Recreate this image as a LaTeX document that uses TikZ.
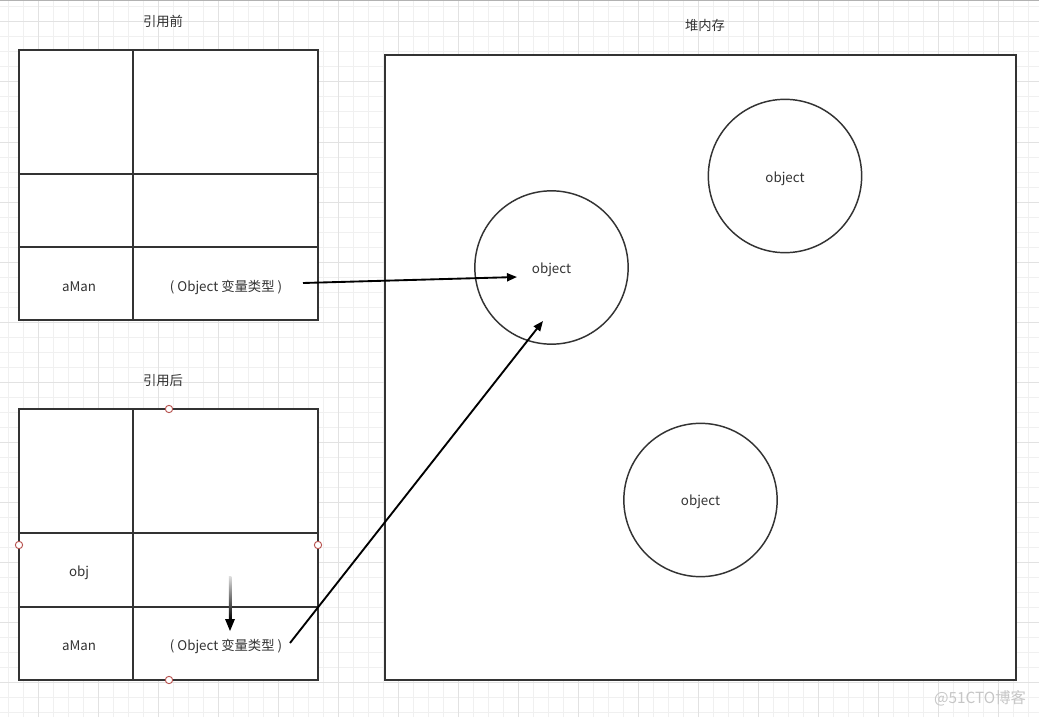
\documentclass[tikz,border=0pt]{standalone}
\usepackage{fontspec}
\setmainfont{Noto Sans CJK SC}
\usetikzlibrary{arrows.meta}
\definecolor{gridminor}{HTML}{F0F0F0}
\definecolor{gridmajor}{HTML}{E2E2E2}
\definecolor{ink}{HTML}{333333}
\definecolor{txt}{HTML}{333333}
\definecolor{handle}{HTML}{B85450}
\tikzset{
  box/.style={draw=ink, line width=1.5pt, fill=white},
  sep/.style={draw=ink, line width=1.5pt},
  lbl/.style={font=\fontsize{10}{12}\selectfont, text=txt, inner sep=0pt, yshift=-1.5pt},
  ttl/.style={font=\fontsize{10}{12}\selectfont, text=txt, inner sep=0pt, yshift=-1.2pt},
  blob/.style={circle, draw=ink, line width=1.1pt, fill=white, minimum size=115pt, inner sep=0pt},
  link/.style={draw=black, line width=1.4pt, -{Triangle[length=7.5pt,width=6pt]}},
  handlept/.style={circle, draw=handle, line width=0.7pt, fill=white, minimum size=5.5pt, inner sep=0pt},
}
\begin{document}
\begin{tikzpicture}[x=0.75pt,y=-0.75pt]
\useasboundingbox (0,0) rectangle (1039,717);
\fill[white] (0,0) rectangle (1039,717);
% grid
\foreach \x in {8,23,...,1038} \draw[gridminor, line width=0.75pt] (\x,0) -- (\x,717);
\foreach \y in {7,22,...,716} \draw[gridminor, line width=0.75pt] (0,\y) -- (1039,\y);
\foreach \x in {38,98,...,1038} \draw[gridmajor, line width=0.75pt] (\x,0) -- (\x,717);
\foreach \y in {22,82,...,716} \draw[gridmajor, line width=0.75pt] (0,\y) -- (1039,\y);
\draw[gray!60, line width=1pt] (0,0.7) -- (1039,0.7);

% titles
\node[ttl] (t1) at (163,20) {引用前};
\node[ttl] (t2) at (163,379) {引用后};
\node[ttl] (t3) at (705,24) {堆内存};

% table 1
\path[box] (19,50) rectangle (318,320);
\draw[sep] (133,50) -- (133,320);
\draw[sep] (19,174) -- (318,174);
\draw[sep] (19,247) -- (318,247);
\node[lbl] (a1) at (79,285) {aMan};
\node[lbl] (o1) at (226,285) {( Object 变量类型 )};

% table 2
\path[box] (19,409) rectangle (318,680);
\draw[sep] (133,409) -- (133,680);
\draw[sep] (19,533) -- (318,533);
\draw[sep] (19,607) -- (318,607);
\node[lbl] (b1) at (79,571) {obj};
\node[lbl] (a2) at (79,644) {aMan};
\node[lbl] (o2) at (226,644) {( Object 变量类型 )};

% heap
\path[box] (385,55) rectangle (1016,680);
\node[blob] (c1) at (551.5,267.5) {};
\node[blob] (c2) at (785,176) {};
\node[blob] (c3) at (700.5,500) {};
\node[lbl] (l1) at (551.5,268) {object};
\node[lbl] (l2) at (785,177) {object};
\node[lbl] (l3) at (700.5,500) {object};

% selection handles
\node[handlept] (h1) at (169,409) {};
\node[handlept] (h2) at (19,545) {};
\node[handlept] (h3) at (318,545) {};
\node[handlept] (h4) at (169,680) {};

% connectors
\coordinate (s1) at (303,283);
\coordinate (e1) at (517,277);
\draw[link] (s1) -- (e1);
\coordinate (s2) at (290,643);
\coordinate (e2) at (543,321);
\draw[link] (s2) -- (e2);

% short faded arrow
\coordinate (s3) at (230,576);
\coordinate (e3) at (230,631);
\shade[top color=gray!25, bottom color=black] (228.8,576) rectangle (231.4,620);
\fill[black] (225,619) -- (235,619) -- (e3) -- cycle;

% watermark
\node[font=\fontsize{11.5}{13}\selectfont, text=gray!45, inner sep=0pt] (wm) at (980,698.5) {@51CTO博客};
\end{tikzpicture}
\end{document}
